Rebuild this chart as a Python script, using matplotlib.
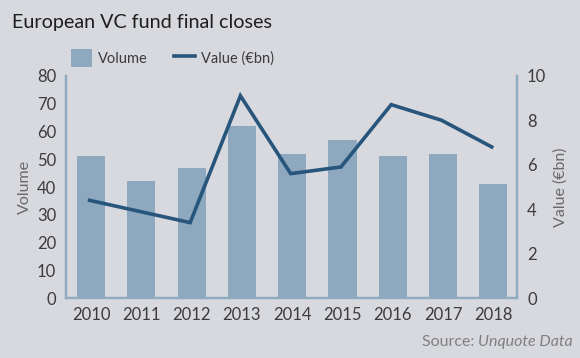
import matplotlib
matplotlib.use("Agg")
import matplotlib.pyplot as plt
from matplotlib.patches import Patch
from matplotlib.lines import Line2D

years = ["2010", "2011", "2012", "2013", "2014", "2015", "2016", "2017", "2018"]
volume = [51, 42, 47, 62, 52, 57, 51, 52, 41]
value_bn = [4.4, 3.9, 3.4, 9.1, 5.6, 5.9, 8.7, 8.0, 6.8]
left_ticks = [0, 10, 20, 30, 40, 50, 60, 70, 80]
right_ticks = [0, 2, 4, 6, 8, 10]

plt.rcParams['font.family'] = ['Lato', 'DejaVu Sans']

BG = "#d8d9de"
BAR = "#8ea9bf"
LINE = "#27557c"
SPINE = "#8eabc1"
TXT = "#3c3c3c"
LBL = "#6a6a6a"

fig = plt.figure(figsize=(5.8, 3.58), dpi=100, facecolor=BG)
ax = fig.add_axes([0.1138, 0.1668, 0.7782, 0.6217])
ax.set_facecolor(BG)
x = list(range(len(years)))
ax.bar(x, volume, width=0.56, color=BAR, zorder=2)
ax.set_ylim(0, 80)
ax.set_xlim(-0.5, 8.48)
ax.set_yticks(left_ticks)
ax.set_xticks(x)
ax.set_xticklabels(years)
ax.tick_params(axis='both', length=0, labelsize=12, colors=TXT)
ax.tick_params(axis='y', pad=7)
ax.tick_params(axis='x', pad=6)
ax.set_ylabel("Volume", fontsize=11.5, color=LBL, labelpad=4)

ax2 = ax.twinx()
ax2.plot([i - 0.03 for i in x], value_bn, color=LINE, linewidth=2.6, zorder=3,
         solid_joinstyle='miter')
ax2.set_ylim(0, 10)
ax2.set_yticks(right_ticks)
ax2.tick_params(axis='y', length=0, labelsize=12, colors=TXT, pad=7)
ax2.set_ylabel("Value (€bn)", fontsize=11.5, color=LBL, labelpad=5)

for a in (ax, ax2):
    a.spines['top'].set_visible(False)
    for s in ('left', 'right', 'bottom'):
        a.spines[s].set_color(SPINE)
        a.spines[s].set_linewidth(1.6)

fig.text(0.0207, 0.938, "European VC fund final closes", fontsize=14.2,
         color="#1e1e1e", va='center', ha='left')

handles = [Patch(facecolor=BAR, edgecolor='none'),
           Line2D([0], [0], color=LINE, linewidth=2.6)]
fig.legend(handles, ["Volume", "Value (€bn)"], loc='center left',
           bbox_to_anchor=(0.105, 0.838), ncol=2, frameon=False,
           fontsize=10.5, labelcolor=TXT, handlelength=1.45, handleheight=1.6,
           handletextpad=0.4, columnspacing=1.8, borderpad=0.2)

t1 = fig.text(0.988, 0.045, "Unquote Data", fontsize=11.5, color="#808080",
              ha='right', va='center', style='italic')
fig.canvas.draw()
bb = t1.get_window_extent()
fig.text(bb.x0 / fig.bbox.width, 0.045, "Source: ", fontsize=11.5,
         color="#808080", ha='right', va='center')

fig.savefig("out.png", dpi=100, facecolor=BG)
